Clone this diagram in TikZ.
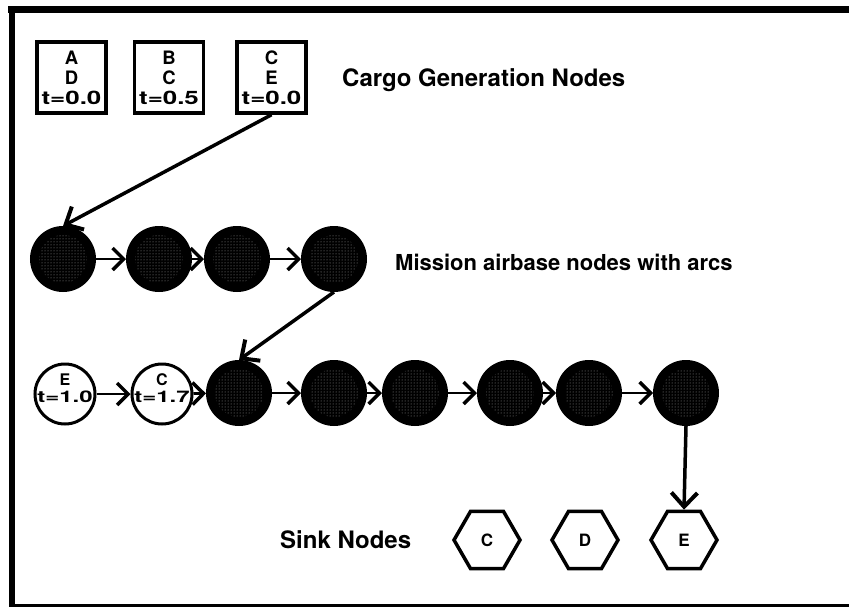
\documentclass[tikz,border=0pt]{standalone}
\usepackage{fontspec}
\setmainfont{TeX Gyre Heros}
\usetikzlibrary{arrows.meta,shapes.geometric,patterns}
\begin{document}
\begin{tikzpicture}[x=1pt,y=-1pt,
  cargo/.style={draw, line width=3.5pt, minimum width=69pt, minimum height=71pt, inner sep=0pt, align=center,
    font=\fontsize{18.5}{20}\selectfont\bfseries},
  mission/.style={circle, draw, line width=3pt, fill=black, minimum size=63pt, inner sep=0pt,
    path picture={\fill[pattern=dots, pattern color=gray!80] (path picture bounding box.center) circle (24pt);}},
  wcirc/.style={circle, draw, line width=3pt, fill=white, minimum size=60pt, inner sep=0pt},
  ctext/.style={align=center, inner sep=0pt, font=\fontsize{16}{17}\selectfont\bfseries},
  sink/.style={regular polygon, regular polygon sides=6, draw, line width=3.5pt,
    minimum size=66pt, inner sep=0pt, font=\fontsize{17}{17}\selectfont\bfseries},
  arc/.style={-{Straight Barb[length=11pt,width=22pt,line width=3.5pt]}, line width=2.8pt},
  bigarc/.style={-{Straight Barb[length=14pt,width=26pt,line width=4pt]}, line width=3.5pt},
  lbl/.style={anchor=west, inner sep=0pt, font=\fontsize{24}{24}\selectfont\bfseries}
]
\useasboundingbox (0,0) rectangle (849,608);
% frame
\fill[black] (8,5.5) rectangle (849,12.5);
\fill[black] (8.5,5.5) rectangle (15,607);
\fill[black] (8.5,603.8) rectangle (849,606.5);

% cargo generation nodes
\node[cargo] (c1) at (71.5,77.5) {A\\D\\\scalebox{1.4}[1]{t=0.0}};
\node[cargo] (c2) at (169,77.5) {B\\C\\\scalebox{1.4}[1]{t=0.5}};
\node[cargo] (c3) at (271.5,77.5) {C\\E\\\scalebox{1.4}[1]{t=0.0}};
\node[lbl] (lc) at (342,80) {Cargo Generation Nodes};

% mission airbase nodes
\node[mission] (m1) at (63,259) {};
\node[mission] (m2) at (159,259) {};
\node[mission] (m3) at (237,259) {};
\node[mission] (m4) at (334,259) {};
\node[lbl, font=\fontsize{22}{22}\selectfont\bfseries] (lm) at (395,262) {Mission airbase nodes with arcs};

% second row
\node[wcirc] (r1) at (65,394) {};
\node[ctext] (r1t) at (65,388) {E\\\scalebox{1.5}[1]{t=1.0}};
\node[wcirc] (r2) at (162,394) {};
\node[ctext] (r2t) at (162,388) {C\\\scalebox{1.5}[1]{t=1.7}};
\node[mission] (r3) at (239,393) {};
\node[mission] (r4) at (334,393) {};
\node[mission] (r5) at (415,393) {};
\node[mission] (r6) at (510,393) {};
\node[mission] (r7) at (589,393) {};
\node[mission] (r8) at (686,393) {};

% sink nodes
\node[lbl] (ls) at (280,540) {Sink Nodes};
\node[sink] (sC) at (487,540) {C};
\node[sink] (sD) at (585,540) {D};
\node[sink] (sE) at (684,540) {E};

% arcs
\draw[bigarc] (c3.south) -- (m1.north);
\draw[arc] (m1) -- (m2);
\draw[arc] (m2) -- (m3);
\draw[arc] (m3) -- (m4);
\draw[bigarc] (m4.south) -- (r3.north);
\draw[arc] (r1) -- (r2);
\draw[arc] (r2) -- (r3);
\draw[arc] (r3) -- (r4);
\draw[arc] (r4) -- (r5);
\draw[arc] (r5) -- (r6);
\draw[arc] (r6) -- (r7);
\draw[arc] (r7) -- (r8);
\draw[bigarc] (r8.south) -- (sE.north);
\end{tikzpicture}
\end{document}
